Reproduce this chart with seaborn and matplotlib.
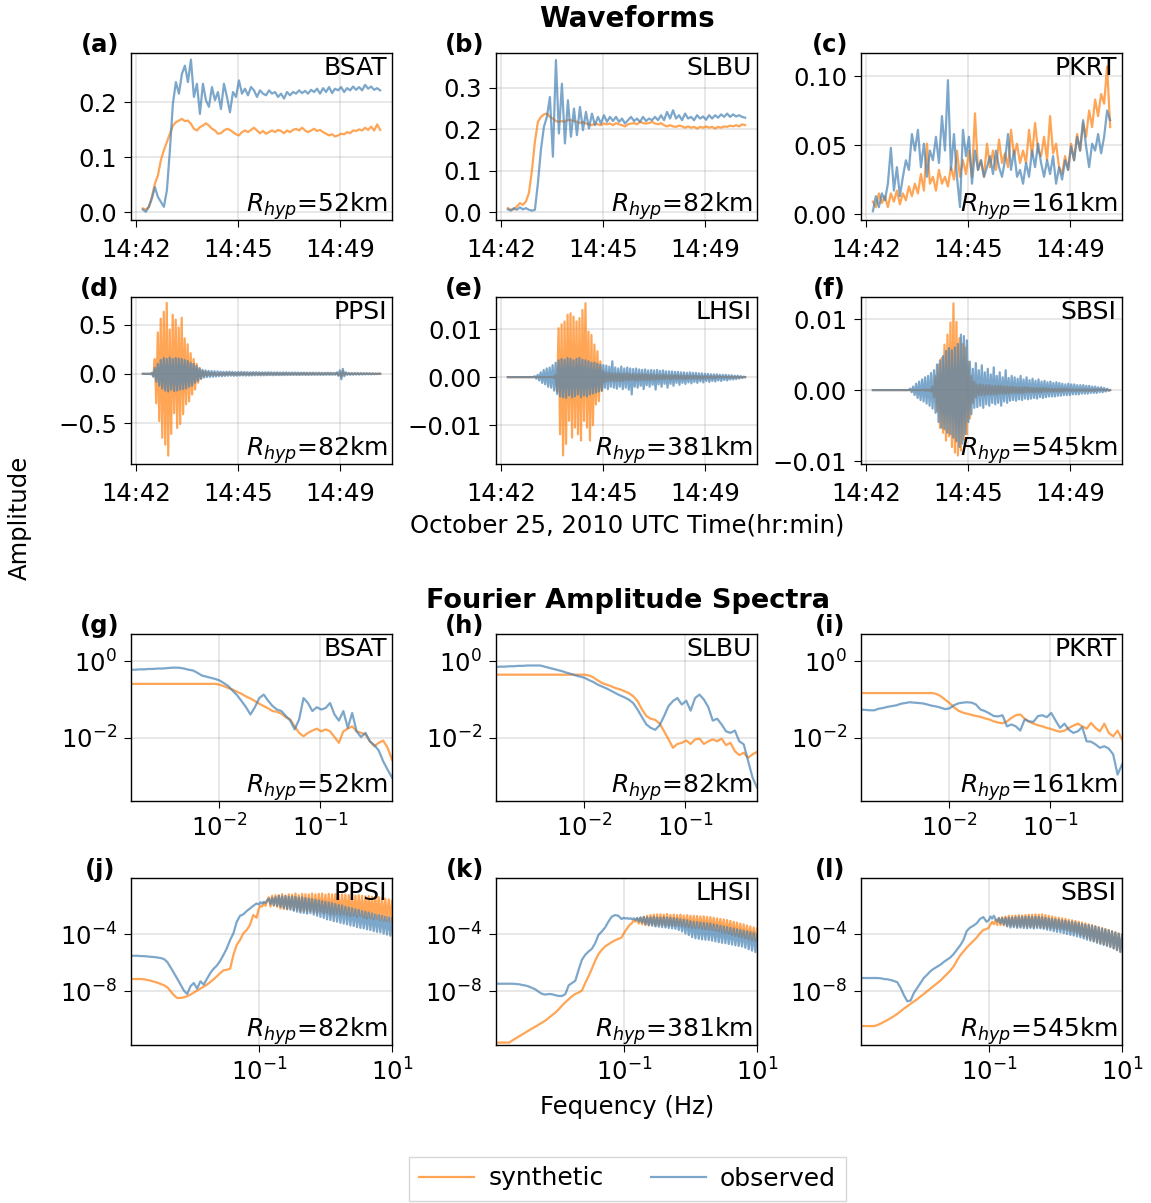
import numpy as np
import matplotlib
matplotlib.use("Agg")
import matplotlib.pyplot as plt
import seaborn as sns
from matplotlib.lines import Line2D
from matplotlib.ticker import NullLocator

# ---------------- data ----------------
STATIONS = ["BSAT", "SLBU", "PKRT", "PPSI", "LHSI", "SBSI"]
RHYP_KM = [52, 82, 161, 82, 381, 545]
LETTERS = list("abcdefghijkl")
TIME_TICKS = [0, 210, 420]            # seconds after 14:42:00
TIME_LABELS = ["14:42", "14:45", "14:49"]
REC_START, REC_END = 14, 502           # record window, s after 14:42:00

# waveforms a-c (amplitude), uniformly sampled over the record window
A_SYN = [0.007,0.005,0.010,0.028,0.052,0.067,0.095,0.113,0.128,0.143,0.158,0.164,0.167,0.170,0.166,0.167,0.161,0.152,0.149,0.155,
         0.158,0.162,0.158,0.152,0.149,0.143,0.144,0.149,0.152,0.150,0.146,0.142,0.140,0.146,0.149,0.146,0.150,0.154,0.149,0.144,
         0.148,0.143,0.146,0.149,0.146,0.150,0.148,0.144,0.149,0.146,0.150,0.152,0.149,0.154,0.149,0.146,0.149,0.152,0.148,0.150,
         0.146,0.143,0.140,0.142,0.138,0.140,0.143,0.142,0.146,0.144,0.149,0.148,0.151,0.149,0.154,0.150,0.156,0.149,0.160,0.150]
A_OBS = [0.005,0.001,0.010,0.025,0.046,0.028,0.019,0.010,0.040,0.113,0.198,0.237,0.216,0.252,0.267,0.237,0.278,0.210,0.234,0.179,
         0.234,0.204,0.192,0.228,0.204,0.219,0.188,0.234,0.210,0.182,0.219,0.210,0.240,0.216,0.225,0.213,0.228,0.222,0.210,0.222,
         0.216,0.213,0.222,0.216,0.219,0.210,0.216,0.207,0.219,0.213,0.219,0.216,0.222,0.217,0.221,0.216,0.223,0.219,0.225,0.216,
         0.226,0.219,0.228,0.217,0.225,0.222,0.228,0.219,0.226,0.222,0.229,0.223,0.228,0.222,0.232,0.225,0.229,0.223,0.226,0.222]
B_SYN = [0.010,0.006,0.007,0.014,0.022,0.018,0.026,0.046,0.100,0.170,0.218,0.230,0.236,0.238,0.230,0.226,0.220,0.218,0.220,0.218,
         0.223,0.222,0.220,0.218,0.215,0.218,0.214,0.212,0.210,0.214,0.212,0.210,0.214,0.212,0.214,0.210,0.215,0.212,0.210,0.207,
         0.212,0.214,0.215,0.212,0.218,0.215,0.214,0.215,0.218,0.214,0.212,0.215,0.210,0.207,0.210,0.207,0.206,0.209,0.207,0.204,
         0.207,0.204,0.206,0.202,0.206,0.204,0.207,0.204,0.206,0.202,0.206,0.204,0.207,0.206,0.209,0.207,0.210,0.207,0.212,0.210]
B_OBS = [0.007,0.004,0.010,0.006,0.012,0.007,0.010,0.006,0.004,0.006,0.070,0.150,0.206,0.230,0.278,0.134,0.367,0.190,0.310,0.166,
         0.270,0.182,0.250,0.186,0.254,0.198,0.242,0.202,0.238,0.210,0.230,0.214,0.234,0.218,0.230,0.220,0.230,0.218,0.226,0.214,
         0.222,0.230,0.220,0.226,0.218,0.230,0.220,0.226,0.222,0.230,0.222,0.234,0.222,0.242,0.226,0.246,0.226,0.234,0.222,0.238,
         0.226,0.230,0.222,0.234,0.226,0.231,0.223,0.234,0.226,0.234,0.228,0.236,0.230,0.238,0.230,0.236,0.231,0.234,0.230,0.228]
C_SYN = [0.009,0.005,0.015,0.008,0.013,0.005,0.015,0.009,0.017,0.007,0.015,0.010,0.020,0.013,0.022,0.015,0.029,0.017,0.051,0.022,
         0.027,0.017,0.032,0.022,0.027,0.020,0.034,0.025,0.046,0.027,0.039,0.029,0.046,0.027,0.073,0.032,0.039,0.027,0.051,0.034,
         0.046,0.032,0.054,0.037,0.044,0.034,0.061,0.042,0.051,0.037,0.046,0.037,0.061,0.042,0.066,0.046,0.042,0.056,0.039,0.071,
         0.044,0.051,0.034,0.029,0.042,0.032,0.051,0.039,0.058,0.046,0.066,0.056,0.075,0.063,0.083,0.071,0.087,0.080,0.107,0.063]
C_OBS = [0.002,0.013,0.005,0.015,0.010,0.022,0.048,0.017,0.034,0.013,0.027,0.039,0.032,0.058,0.046,0.061,0.034,0.051,0.027,0.046,
         0.039,0.056,0.037,0.071,0.046,0.097,0.032,0.058,0.027,0.005,0.061,0.042,0.056,0.022,0.046,0.032,0.039,0.027,0.034,0.042,
         0.029,0.046,0.034,0.027,0.039,0.058,0.032,0.046,0.027,0.032,0.022,0.037,0.027,0.046,0.034,0.051,0.037,0.027,0.039,0.029,
         0.042,0.022,0.034,0.025,0.039,0.032,0.049,0.039,0.056,0.046,0.068,0.049,0.034,0.051,0.046,0.058,0.044,0.056,0.075,0.068]

# waveforms d (units 1e-3) and e, f (units 1e-4), uniformly sampled over the record window
D_SYN_MILLI = [0,0,0,0,1,-1,3,
    -20,150,-300,420,-480,560,-650,630,-720,720,-830,450,-610,600,-400,550,-550,470,-510,570,-410,360,-310,300,-280,210,-210,150,-160,100,-90,60,-50,
    30,-25,20,-18,15,-14,12,-12,11,-10,
    -10,9,-11,8,-10,9,-9,10,-8,9, -9,8,-10,8,-9,7,-9,8,-8,9, -8,7,-9,8,-8,7,-8,7,-9,7, -7,8,-7,7,-8,6,-7,7,-7,6,
    -7,6,-8,6,-7,6,-6,7,-6,6, -6,5,-7,6,-6,5,-6,6,-5,6, -6,5,-5,6,-5,5,-6,5,-5,5, -5,4,-5,5,-4,5,-5,4,-4,5,
    8,-10,12,-30,28,-10,6,-5,5,-4, 4,-4,4,-3,4,-3,3,-3,3,-3, 3,-2,2,-2,2,-2,1,-1,1,0]
D_OBS_MILLI = [0,0,1,-1,2,-4,
    10,-30,60,-80,100,-120,140,-150,160,-170,150,-180,165,-160,150,-175,160,-170,155,-160,150,-155,140,-150,130,-130,110,-120,100,-90,80,-70,55,-50,40,
    -38,35,-33,30,-32,28,-30,26,-28,25,
    -24,22,-25,20,-22,21,-20,22,-19,20, -21,18,-20,19,-18,20,-17,18,-19,17, -18,16,-17,18,-16,17,-15,16,-17,15,
    -16,15,-15,16,-14,15,-15,14,-14,15, -14,13,-14,14,-13,14,-13,12,-13,13, -12,13,-12,12,-13,12,-11,12,-12,11,
    -12,11,-11,12,-11,11,-10,11,-11,10, -11,10,-10,11,-10,10,-10,9,-10,
    15,-20,35,-55,50,-25,15,
    -10,9,-10,8,-9,8,-8,7,-8,7,-7,6,-6,6,-5,5,-5,4,-4,3,-3,2,0]
E_SYN_TENTHOUS = [0,0,0,0,0,0,0,0,0,0, 0,0,0,0,0,0,0,0,0,0, 0,0,0,0,0,0,0,0,0,0,
    1,-2,5,
    -30,102,-119,110,-163,116,-139,130,-91,133,-126,126,-105,116,-119,123,-132,140,-91,154,-105,95,-132,88,-100,68,-57,54,-50,33,-29,12,-10,
    9,-8,9,-8,8,-9,8,-7,8,-8, 7,-8,7,-7,8,-7,7,-6,7,-7, 6,-7,6,-6,7,-6,6,-6,5,-6, 6,-5,5,-6,5,-5,5,-5,5,-4,
    5,-4,4,-5,4,-4,4,-4,4,-4, 3,-4,3,-4,3,-3,3,-3,3,-3, 3,-3,2,-3,2,-3,2,-2,2,-2, 2,-2,2,-2,2,-1,2,-1,1,-1,
    1,-1,1,-1,1,-1,1,-1,1,-1, 1,0,0,0]
E_OBS_TENTHOUS = [0,0,0,0,0,0,0,0,0,0, 0,0,0,0,0,0,0,0,
    2,-3,5,-7,10,-12,15,-15,18,-20,20,-22,25,-28,30,
    -35,35,-40,38,-42,36,-43,40,-38,38,-42,35,-40,38,-36,40,-42,36,-38,35,-40,33,-36,30,-34,30,-32,28,-30,26,-28,25,
    -22,24,-25,22,-20,33,-22,20,-24,18,-20,22,-25,18,-22,20,-26,18,-36,17,-20,18,-22,16,
    -18,15,-25,16,-17,14,-20,15,-16,14,-26,15,-15,13,-20,14,-14,12,-22,12,-14,12,-18,11,-12,11,-16,10,-12,10,-14,9,-11,10,-13,9,-10,9,
    -12,8,-9,8,-11,7,-8,7,-10,6,-8,6,-9,6,-7,5,-8,5,-6,5,-7,4,-5,4,-5,3,-4,3,-3,2,-2,1,0]
F_SYN_TENTHOUS = [0,0,0,0,0,0,0,0,0,0, 0,0,0,0,0,0,0,0,0,0, 0,0,0,0,0,0,0,0,0,0,
    0,0,0,0,1,-1,1,-1,
    1,-2,5,-10,20,-30,36,-53,45,-60,64,-71,78,-65,95,-80,122,-88,96,-92,73,-85,65,-70,60,-62,40,-40,20,-18,12,-10,
    8,-7,8,-7,7,-7,7,-6,7,-6, 6,-6,6,-6,6,-5,6,-5,5,-5, 5,-5,5,-4,5,-4,4,-4,4,-4, 4,-4,4,-3,4,-3,3,-3,3,-3,
    3,-3,3,-3,3,-2,3,-2,2,-2, 2,-2,2,-2,2,-2,2,-2,2,-1, 2,-1,1,-1,1,-1,1,-1,1,-1, 1,-1,1,-1,1,-1,1,-1,1,-1,
    1,0,1,0,1,0,0,0,0,0]
F_OBS_TENTHOUS = [0,0,0,0,0,0,0,0,0,0, 0,0,0,0,0,0,0,0,0,0, 0,0,0,0,0,
    2,-3,5,-7,9,-11,12,-14,15,-16,18,-19,20,-22,24,-26,28,-32,36,
    -45,42,-53,48,-55,55,-60,59,-62,56,-67,60,-72,65,-80,78,-75,76,-62,70,-45,40,
    -34,30,-25,38,-24,28,-22,35,-25,25,-20,30,-22,22,-18,32,-20,20,-18,25,-22,18,-16,28,-18,17,-15,20,
    -14,18,-15,16,-13,20,-14,15,-12,18,-13,14,-12,16,-11,13,-12,15,-10,12,-11,13,-10,11,-9,12,-9,10,-9,11,-8,10,
    -8,9,-7,8,-7,9,-7,8,-6,8,-6,7,-6,7,-5,7,-5,6,-5,6,-4,5,-4,5,-4,4,-3,4,-3,3,-2,2,-1,0]

# Fourier amplitude spectra, log10(amplitude) on log-spaced frequencies
FREQ_LOG_RANGE_1 = (-2.863, -0.297)     # rows g-i, log10(Hz)
FREQ_LOG_LOW_2 = (-2.92, -1.034)        # rows j-l, smooth low-frequency part
FREQ_LOG_BAND_2 = (-1.0, 1.0)           # rows j-l, dense high-frequency part
G_SYN = [-0.59,-0.59,-0.59,-0.59,-0.59,-0.59,-0.59,-0.59,-0.59,-0.59,-0.59,-0.59,-0.59,-0.59,-0.59,-0.59,-0.59,-0.59,-0.59,-0.59,
         -0.61,-0.65,-0.70,-0.74,-0.80,-0.85,-0.92,-0.97,-1.04,-1.11,-1.17,-1.23,-1.30,-1.32,-1.37,-1.46,-1.52,-1.70,-1.87,-1.96,
         -1.87,-1.81,-1.76,-1.83,-1.78,-1.83,-1.98,-2.13,-1.83,-1.76,-1.70,-1.83,-1.87,-1.91,-2.09,-2.22,-2.13,-2.07,-2.26,-2.57]
G_OBS = [-0.22,-0.22,-0.21,-0.21,-0.20,-0.20,-0.19,-0.19,-0.18,-0.17,-0.165,-0.17,-0.19,-0.22,-0.24,-0.30,-0.37,-0.40,-0.43,-0.46,
         -0.50,-0.57,-0.65,-0.77,-0.89,-1.04,-1.20,-1.39,-1.20,-0.96,-0.87,-1.03,-1.17,-1.26,-1.30,-1.43,-1.55,-1.78,-1.52,-0.96,
         -1.09,-1.30,-1.20,-1.26,-1.22,-1.09,-1.39,-1.55,-1.30,-1.74,-1.35,-1.83,-1.98,-1.87,-2.09,-2.19,-2.33,-2.61,-2.83,-3.04]
H_SYN = [-0.35,-0.35,-0.35,-0.35,-0.35,-0.35,-0.35,-0.35,-0.35,-0.35,-0.35,-0.35,-0.35,-0.35,-0.35,-0.35,-0.35,-0.35,-0.35,-0.35,
         -0.35,-0.37,-0.42,-0.50,-0.57,-0.61,-0.65,-0.70,-0.73,-0.78,-0.83,-0.91,-1.04,-1.26,-1.43,-1.50,-1.53,-1.63,-1.83,-2.04,
         -2.26,-2.16,-2.13,-2.07,-2.16,-2.04,-2.02,-2.16,-2.09,-2.04,-2.09,-2.02,-2.19,-2.13,-2.35,-2.45,-2.39,-2.52,-2.43,-2.37]
H_OBS = [-0.15,-0.14,-0.14,-0.13,-0.13,-0.12,-0.12,-0.11,-0.11,-0.11,-0.11,-0.14,-0.17,-0.20,-0.23,-0.26,-0.30,-0.33,-0.37,-0.40,
         -0.43,-0.49,-0.54,-0.61,-0.66,-0.71,-0.77,-0.83,-0.89,-0.94,-1.00,-1.09,-1.26,-1.46,-1.65,-1.74,-1.79,-1.67,-1.43,-1.17,
         -1.04,-0.96,-1.13,-1.03,-1.29,-0.96,-0.87,-1.00,-1.20,-1.55,-1.50,-1.65,-1.83,-1.87,-1.81,-2.09,-2.17,-2.61,-3.04,-3.30]
I_SYN = [-0.83,-0.83,-0.83,-0.83,-0.83,-0.83,-0.83,-0.83,-0.83,-0.83,-0.83,-0.83,-0.83,-0.83,-0.83,-0.83,-0.83,-0.85,-0.91,-1.00,
         -1.09,-1.20,-1.29,-1.34,-1.37,-1.40,-1.43,-1.45,-1.49,-1.52,-1.57,-1.60,-1.62,-1.57,-1.48,-1.41,-1.39,-1.50,-1.58,-1.63,
         -1.67,-1.70,-1.74,-1.77,-1.81,-1.84,-1.81,-1.74,-1.68,-1.63,-1.70,-1.76,-1.61,-1.74,-1.83,-1.63,-1.87,-1.96,-1.81,-2.04]
I_OBS = [-1.26,-1.27,-1.28,-1.28,-1.24,-1.22,-1.19,-1.17,-1.15,-1.11,-1.09,-1.07,-1.08,-1.09,-1.10,-1.13,-1.16,-1.18,-1.21,-1.25,
         -1.23,-1.15,-1.10,-1.08,-1.07,-1.08,-1.13,-1.26,-1.30,-1.36,-1.43,-1.44,-1.41,-1.70,-1.65,-1.70,-1.81,-1.52,-1.57,-1.58,
         -1.43,-1.41,-1.46,-1.35,-1.55,-1.74,-1.63,-1.79,-1.87,-1.83,-1.72,-2.09,-2.10,-2.17,-2.26,-2.22,-2.28,-2.43,-2.96,-2.70]

J_SYN_LOW = [-7.14,-7.14,-7.14,-7.14,-7.16,-7.21,-7.26,-7.33,-7.40,-7.49,-7.58,-7.72,-8.00,-8.28,-8.47,-8.47,-8.42,-8.35,-8.23,-8.09,
             -7.95,-7.81,-7.67,-7.53,-7.35,-7.16,-6.95,-6.72,-6.53,-6.49,-6.42,-5.44,-4.74,-4.40,-3.93,-3.70,-3.35,-2.65,-2.84]
J_OBS_LOW = [-5.51,-5.51,-5.51,-5.53,-5.53,-5.56,-5.58,-5.60,-5.63,-5.67,-5.74,-5.95,-6.33,-6.72,-7.12,-7.53,-7.95,-8.19,-7.65,-7.42,
             -7.81,-7.30,-7.53,-7.12,-6.72,-6.42,-6.19,-5.86,-5.44,-4.98,-4.40,-3.93,-3.12,-2.70,-2.60,-2.37,-2.19,-2.00,-1.84]
K_SYN_LOW = [-11.60,-11.60,-11.60,-11.60,-11.60,-11.44,-11.30,-11.16,-11.02,-10.88,-10.74,-10.60,-10.47,-10.33,-10.19,-10.05,-9.86,-9.67,-9.49,-9.26,
             -9.00,-8.77,-8.56,-8.35,-8.19,-8.09,-7.95,-7.42,-6.95,-6.42,-5.86,-5.40,-5.09,-4.86,-4.70,-4.56,-4.42,-4.33,-4.23]
K_OBS_LOW = [-7.47,-7.47,-7.47,-7.47,-7.47,-7.47,-7.49,-7.51,-7.56,-7.60,-7.67,-7.77,-7.88,-8.05,-8.19,-8.23,-8.19,-8.21,-8.28,-8.33,
             -8.33,-8.19,-7.58,-7.42,-7.26,-6.49,-5.79,-5.44,-5.21,-5.02,-4.63,-4.05,-3.81,-3.53,-3.12,-2.77,-2.65,-2.70,-2.93]
L_SYN_LOW = [-10.44,-10.44,-10.44,-10.44,-10.44,-10.37,-10.26,-10.14,-10.02,-9.88,-9.74,-9.58,-9.40,-9.21,-9.05,-8.88,-8.72,-8.56,-8.37,-8.19,
             -8.00,-7.81,-7.63,-7.44,-7.26,-7.02,-6.79,-6.56,-6.26,-5.86,-5.49,-5.21,-4.93,-4.70,-4.47,-4.23,-3.93,-3.70,-3.63]
L_OBS_LOW = [-7.07,-7.07,-7.07,-7.07,-7.07,-7.07,-7.09,-7.14,-7.16,-7.21,-7.28,-7.37,-7.77,-8.28,-8.70,-8.65,-8.12,-7.77,-7.42,-7.07,
             -6.84,-6.60,-6.42,-6.28,-6.14,-5.95,-5.79,-5.63,-5.40,-5.09,-4.79,-4.40,-3.77,-3.53,-3.40,-3.23,-2.93,-2.79,-3.12]

# high-frequency parts, log10(amplitude) in hundredths
J_SYN_BAND = [-219,-200,-205,-180,-200,-160, -140,-205,-130,-200,-126,-207,
    -126,-219,-118,-222,-128,-225,-120,-215,-122,-230, -114,-228,-125,-240,-116,-235,-118,-242,-120,-236,
    -114,-245,-120,-250,-116,-240,-114,-253,-122,-248, -116,-258,-120,-262,-118,-255,-124,-265,-120,-260,
    -121,-268,-125,-275,-123,-270,-128,-280,-126,-272, -130,-284,-134,-290,-132,-286,-138,-295,-136,-290,
    -140,-300,-145,-305,-150,-308,-155,-312,-165]
J_OBS_BAND = [-191,-175,-184,-172,-180,-165, -150,-188,-144,-195,-140,-200,
    -130,-207,-134,-215,-132,-222,-136,-228,-135,-235, -137,-242,-142,-248,-140,-250,-146,-255,-150,-252,
    -153,-262,-158,-270,-162,-278,-168,-285,-172,-295, -177,-300,-182,-308,-188,-312,-194,-320,-198,-325,
    -207,-330,-212,-338,-218,-342,-225,-350,-230,-355, -237,-358,-242,-365,-248,-370,-254,-378,-260,-383,
    -265,-386,-270,-395,-276,-402,-282,-410,-288]
K_SYN_BAND = [-393,-375,-358,-340,-330,-320, -300,-312,-290,-325,-282,-330,
    -277,-335,-270,-338,-265,-332,-262,-340,-260,-336, -260,-335,-262,-340,-258,-338,-264,-342,-262,-340,
    -265,-340,-262,-345,-268,-348,-266,-352,-270,-355, -270,-358,-272,-356,-275,-362,-274,-365,-278,-368,
    -280,-370,-284,-375,-288,-380,-292,-385,-296,-390, -300,-398,-306,-405,-312,-412,-318,-418,-325,-424,
    -330,-428,-338,-436,-345,-442,-352,-448,-358]
K_OBS_BAND = [-284,-290,-286,-292,-288,-295, -288,-300,-285,-310,-282,-318,
    -278,-330,-280,-335,-282,-340,-279,-345,-282,-347, -284,-350,-280,-352,-283,-356,-285,-358,-287,-362,
    -290,-370,-295,-380,-298,-395,-302,-405,-308,-420, -312,-428,-315,-432,-318,-436,-320,-438,-323,-440,
    -325,-445,-330,-450,-335,-455,-340,-460,-345,-463, -350,-468,-355,-472,-360,-478,-365,-482,-370,-486,
    -375,-495,-380,-505,-385,-515,-390,-525,-400]
L_SYN_BAND = [-353,-330,-312,-330,-300,-335, -284,-335,-280,-338,-276,-340,
    -270,-340,-272,-342,-268,-345,-266,-347,-268,-345, -265,-347,-263,-348,-262,-350,-260,-347,-262,-352,
    -260,-355,-265,-357,-270,-356,-275,-358,-280,-360, -284,-360,-288,-365,-292,-370,-298,-378,-302,-385,
    -307,-393,-312,-405,-318,-415,-324,-425,-330,-435, -336,-447,-342,-455,-350,-463,-356,-470,-362,-478,
    -370,-486,-378,-498,-385,-510,-395,-520,-405]
L_OBS_BAND = [-300,-275,-290,-270,-293,-310, -288,-323,-286,-330,-284,-345,
    -284,-353,-282,-350,-280,-355,-278,-353,-277,-356, -277,-358,-276,-355,-278,-360,-277,-356,-278,-358,
    -280,-362,-284,-368,-288,-372,-292,-378,-295,-383, -298,-386,-302,-392,-305,-398,-310,-404,-312,-409,
    -318,-415,-322,-422,-328,-430,-332,-438,-336,-445, -340,-451,-346,-460,-352,-468,-360,-475,-366,-482,
    -372,-490,-380,-500,-388,-512,-395,-525,-405]

# ---------------- assemble series ----------------
WAVES = [(np.array(A_SYN), np.array(A_OBS)),
         (np.array(B_SYN), np.array(B_OBS)),
         (np.array(C_SYN), np.array(C_OBS)),
         (np.array(D_SYN_MILLI) * 1e-3, np.array(D_OBS_MILLI) * 1e-3),
         (np.array(E_SYN_TENTHOUS) * 1e-4, np.array(E_OBS_TENTHOUS) * 1e-4),
         (np.array(F_SYN_TENTHOUS) * 1e-4, np.array(F_OBS_TENTHOUS) * 1e-4)]


def spec_top(vals):
    f = np.logspace(*FREQ_LOG_RANGE_1, len(vals))
    return f, 10 ** np.array(vals)


def spec_bottom(low, band):
    f = np.concatenate([np.logspace(*FREQ_LOG_LOW_2, len(low)),
                        np.logspace(*FREQ_LOG_BAND_2, len(band))])
    a = np.concatenate([np.array(low), np.array(band) / 100.0])
    return f, 10 ** a


SPECS = [(spec_top(G_SYN), spec_top(G_OBS)),
         (spec_top(H_SYN), spec_top(H_OBS)),
         (spec_top(I_SYN), spec_top(I_OBS)),
         (spec_bottom(J_SYN_LOW, J_SYN_BAND), spec_bottom(J_OBS_LOW, J_OBS_BAND)),
         (spec_bottom(K_SYN_LOW, K_SYN_BAND), spec_bottom(K_OBS_LOW, K_OBS_BAND)),
         (spec_bottom(L_SYN_LOW, L_SYN_BAND), spec_bottom(L_OBS_LOW, L_OBS_BAND))]

# ---------------- style ----------------
C_SYN, C_OBS = "#ff7f0e", "steelblue"
ALPHA = 0.7
LW = 1.6
FS = 17.5

plt.rcParams.update({
    "font.size": FS,
    "xtick.major.size": 5, "ytick.major.size": 5,
    "xtick.major.pad": 5, "ytick.major.pad": 5,
    "xtick.labelsize": FS, "ytick.labelsize": FS,
    "axes.linewidth": 1.0,
})

W, H = 1151, 1203
fig = plt.figure(figsize=(W / 100, H / 100), dpi=100)

COL_LEFT = [131, 496, 861]
ROW_TOP = [53, 297, 634, 878]
AX_W, AX_H = 261, 167


def add_ax(col, row):
    l, t = COL_LEFT[col], ROW_TOP[row]
    return fig.add_axes([l / W, 1 - (t + AX_H) / H, AX_W / W, AX_H / H])


WAVE_YLIM = [(-0.014, 0.290), (-0.0186, 0.384), (-0.0043, 0.1167),
             (-0.916, 0.78), (-0.0181, 0.0167), (-0.0104, 0.0131)]
WAVE_YTICKS = [[0, 0.1, 0.2], [0, 0.1, 0.2, 0.3], [0, 0.05, 0.10],
               [-0.5, 0, 0.5], [-0.01, 0, 0.01], [-0.01, 0, 0.01]]


def decorate(ax, k):
    ax.text(-0.12, 1.045, f"({LETTERS[k]})", transform=ax.transAxes,
            ha="center", va="center", fontweight="bold", fontsize=FS)
    ax.text(0.98, 0.91, STATIONS[k % 6], transform=ax.transAxes,
            ha="right", va="center", fontsize=18)
    ax.text(0.985, 0.085, r"$R_{hyp}$=" + f"{RHYP_KM[k % 6]}km", transform=ax.transAxes,
            ha="right", va="center", fontsize=18)
    ax.grid(True, which="major", color="#b0b0b0", alpha=0.35, lw=1.2)
    ax.set_axisbelow(True)
    ax.set_xlabel("")
    ax.set_ylabel("")


# waveforms
for k, (syn, obs) in enumerate(WAVES):
    ax = add_ax(k % 3, k // 3)
    t_syn = np.linspace(REC_START, REC_END, len(syn))
    t_obs = np.linspace(REC_START, REC_END, len(obs))
    sns.lineplot(x=t_syn, y=syn, ax=ax, color=C_SYN, alpha=ALPHA, lw=LW,
                 sort=False, estimator=None)
    sns.lineplot(x=t_obs, y=obs, ax=ax, color=C_OBS, alpha=ALPHA, lw=LW,
                 sort=False, estimator=None)
    span = REC_END - REC_START
    ax.set_xlim(REC_START - 0.05 * span, REC_END + 0.05 * span)
    ax.set_ylim(*WAVE_YLIM[k])
    ax.set_xticks(TIME_TICKS)
    ax.set_xticklabels(TIME_LABELS)
    ax.set_yticks(WAVE_YTICKS[k])
    ax.tick_params(axis="x", pad=8)
    decorate(ax, k)

# spectra
SPEC_YLIM = [(10 ** -3.65, 10 ** 0.713), (10 ** -11.77, 10 ** -0.05)]
SPEC_XLIM = [(10 ** FREQ_LOG_RANGE_1[0], 10 ** FREQ_LOG_RANGE_1[1]),
             (10 ** FREQ_LOG_LOW_2[0], 10 ** FREQ_LOG_BAND_2[1])]
SPEC_YTICKS = [[1e-2, 1e0], [1e-8, 1e-4]]
SPEC_XTICKS = [[1e-2, 1e-1], [1e-1, 1e1]]
for k, ((f_s, a_s), (f_o, a_o)) in enumerate(SPECS):
    r = k // 3
    ax = add_ax(k % 3, 2 + r)
    sns.lineplot(x=f_s, y=a_s, ax=ax, color=C_SYN, alpha=ALPHA, lw=LW,
                 sort=False, estimator=None)
    sns.lineplot(x=f_o, y=a_o, ax=ax, color=C_OBS, alpha=ALPHA, lw=LW,
                 sort=False, estimator=None)
    ax.set_xscale("log")
    ax.set_yscale("log")
    ax.set_xlim(*SPEC_XLIM[r])
    ax.set_ylim(*SPEC_YLIM[r])
    ax.set_xticks(SPEC_XTICKS[r])
    ax.set_yticks(SPEC_YTICKS[r])
    ax.xaxis.set_minor_locator(NullLocator())
    ax.yaxis.set_minor_locator(NullLocator())
    decorate(ax, k + 6)

# figure texts
cx = 627.5 / W
fig.text(cx, 1 - 19 / H, "Waveforms", ha="center", va="center", fontsize=20, fontweight="bold")
fig.text(cx, 1 - 601 / H, "Fourier Amplitude Spectra", ha="center", va="center", fontsize=19.5, fontweight="bold")
fig.text(cx, 1 - 525 / H, "October 25, 2010 UTC Time(hr:min)", ha="center", va="center", fontsize=FS)
fig.text(cx, 1 - 1107 / H, "Fequency (Hz)", ha="center", va="center", fontsize=FS)
fig.text(20 / W, 1 - 518 / H, "Amplitude", ha="center", va="center", rotation=90, fontsize=FS)

handles = [Line2D([], [], color=C_SYN, alpha=ALPHA, lw=LW),
           Line2D([], [], color=C_OBS, alpha=ALPHA, lw=LW)]
fig.legend(handles, ["synthetic", "observed"], loc="lower center",
           bbox_to_anchor=(cx, 0.0), borderaxespad=0.1, ncol=2, fontsize=18,
           handlelength=2.2, handletextpad=0.55, columnspacing=1.9, fancybox=False)

fig.savefig("out.png", dpi=100)
